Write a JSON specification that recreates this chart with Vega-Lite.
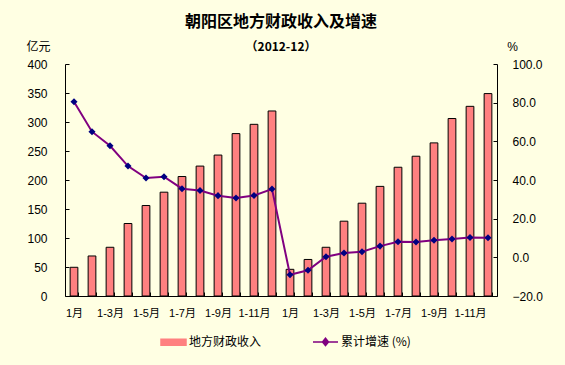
{
  "$schema": "https://vega.github.io/schema/vega-lite/v6.json",
  "width": 432,
  "height": 232,
  "autosize": "none",
  "padding": {"left": 65, "top": 64, "right": 68, "bottom": 69},
  "background": "#FFFFE3",
  "title": {
    "text": "朝阳区地方财政收入及增速",
    "subtitle": "（2012-12）",
    "anchor": "middle",
    "font": "Noto Sans CJK SC",
    "fontSize": 16,
    "fontWeight": "bold",
    "color": "#000",
    "subtitleFont": "Noto Sans CJK SC",
    "subtitleFontSize": 12,
    "subtitleFontWeight": "bold",
    "subtitleColor": "#000",
    "subtitlePadding": 12,
    "offset": -13
  },
  "data": {
    "values": [
      {"i": 1, "year": 2011, "income": 49.5, "growth": 80.5},
      {"i": 2, "year": 2011, "income": 69, "growth": 65},
      {"i": 3, "year": 2011, "income": 84, "growth": 57.7},
      {"i": 4, "year": 2011, "income": 125, "growth": 47.2},
      {"i": 5, "year": 2011, "income": 156, "growth": 41},
      {"i": 6, "year": 2011, "income": 179, "growth": 41.7},
      {"i": 7, "year": 2011, "income": 206, "growth": 35.5},
      {"i": 8, "year": 2011, "income": 224, "growth": 34.6},
      {"i": 9, "year": 2011, "income": 243, "growth": 31.9},
      {"i": 10, "year": 2011, "income": 280, "growth": 30.7},
      {"i": 11, "year": 2011, "income": 296, "growth": 32},
      {"i": 12, "year": 2011, "income": 319, "growth": 35.3},
      {"i": 13, "year": 2012, "income": 46, "growth": -9},
      {"i": 14, "year": 2012, "income": 63, "growth": -6.7},
      {"i": 15, "year": 2012, "income": 84, "growth": 0.3},
      {"i": 16, "year": 2012, "income": 129, "growth": 2.2},
      {"i": 17, "year": 2012, "income": 160, "growth": 2.9},
      {"i": 18, "year": 2012, "income": 189, "growth": 5.8},
      {"i": 19, "year": 2012, "income": 222, "growth": 8.1},
      {"i": 20, "year": 2012, "income": 241, "growth": 7.9},
      {"i": 21, "year": 2012, "income": 264, "growth": 8.8},
      {"i": 22, "year": 2012, "income": 306, "growth": 9.5},
      {"i": 23, "year": 2012, "income": 327, "growth": 10.3},
      {"i": 24, "year": 2012, "income": 349, "growth": 10.1}
    ]
  },
  "encoding": {
    "x": {
      "field": "i",
      "type": "ordinal",
      "scale": {"paddingInner": 0.57, "paddingOuter": 0.285},
      "axis": {
        "title": null,
        "labelAngle": 0,
        "labelExpr": "datum.value % 2 == 1 ? (datum.value % 12 == 1 ? '1月' : '1-' + ((datum.value - 1) % 12 + 1) + '月') : ''",
        "tickBand": "extent",
        "tickSize": -4,
        "labelPadding": 15,
        "labelFont": "Liberation Sans, 'Noto Sans CJK SC'",
        "labelFontSize": 11,
        "labelColor": "#000",
        "domainColor": "#000",
        "tickColor": "#000",
        "labelFlush": false
      }
    }
  },
  "layer": [
    {
      "mark": {"type": "bar", "stroke": "#000", "strokeWidth": 1},
      "encoding": {
        "y": {
          "field": "income",
          "type": "quantitative",
          "scale": {"domain": [0, 400]},
          "axis": {
            "title": "亿元",
            "titleAngle": 0,
            "titleX": -27,
            "titleY": -18,
            "titleAlign": "center",
            "titleBaseline": "middle",
            "titleFont": "Noto Sans CJK SC",
            "titleFontSize": 12,
            "titleFontWeight": "normal",
            "titleColor": "#000",
            "values": [0, 50, 100, 150, 200, 250, 300, 350, 400],
            "grid": false,
            "tickSize": -4,
            "labelPadding": 22,
            "labelFont": "Liberation Sans",
            "labelFontSize": 12,
            "labelColor": "#000",
            "domainColor": "#000",
            "tickColor": "#000"
          }
        },
        "color": {
          "datum": "地方财政收入",
          "scale": {"domain": ["地方财政收入", "累计增速 (%)"], "range": ["#FF8080", "#800080"]},
          "legend": {
            "title": null,
            "orient": "none",
            "legendX": 95,
            "legendY": 264,
            "direction": "horizontal",
            "padding": 0,
            "symbolSize": 625,
            "columnPadding": 48,
            "labelFont": "Noto Sans CJK SC",
            "labelFontSize": 12,
            "labelColor": "#000",
            "labelOffset": 2,
            "encode": {
              "symbols": {
                "update": {
                  "shape": {"signal": "datum.value == '地方财政收入' ? 'M-1,-0.24H1V0.24H-1Z' : 'M-1,0H1M0,-0.3L0.24,0L0,0.3L-0.24,0Z'"},
                  "fill": {"signal": "datum.value == '地方财政收入' ? '#FF8080' : '#000080'"},
                  "stroke": {"signal": "datum.value == '地方财政收入' ? '#222' : '#800080'"},
                  "strokeWidth": {"value": 1.5},
                  "opacity": {"value": 1}
                }
              }
            }
          }
        }
      }
    },
    {
      "encoding": {
        "y": {
          "field": "growth",
          "type": "quantitative",
          "scale": {"domain": [-20, 100]},
          "axis": {
            "orient": "right",
            "title": "%",
            "titleAngle": 0,
            "titleX": 15,
            "titleY": -18,
            "titleAlign": "center",
            "titleBaseline": "middle",
            "titleFont": "Liberation Sans",
            "titleFontSize": 12,
            "titleFontWeight": "normal",
            "titleColor": "#000",
            "values": [-20, 0, 20, 40, 60, 80, 100],
            "format": ".1f",
            "grid": false,
            "tickSize": -4,
            "labelPadding": 19,
            "labelFont": "Liberation Sans",
            "labelFontSize": 12,
            "labelColor": "#000",
            "domainColor": "#000",
            "tickColor": "#000"
          }
        }
      },
      "layer": [
        {
          "mark": {"type": "line", "strokeWidth": 2},
          "encoding": {
            "color": {
              "datum": "累计增速 (%)",
              "legend": {
                "title": null,
                "orient": "none",
                "legendX": 95,
                "legendY": 264,
                "direction": "horizontal",
                "padding": 0,
                "symbolSize": 625,
                "columnPadding": 48,
                "labelFont": "Noto Sans CJK SC",
                "labelFontSize": 12,
                "labelColor": "#000",
                "labelOffset": 2,
                "encode": {
                  "symbols": {
                    "update": {
                      "shape": {"signal": "datum.value == '地方财政收入' ? 'M-1,-0.24H1V0.24H-1Z' : 'M-1,0H1M0,-0.3L0.24,0L0,0.3L-0.24,0Z'"},
                      "fill": {"signal": "datum.value == '地方财政收入' ? '#FF8080' : '#000080'"},
                      "stroke": {"signal": "datum.value == '地方财政收入' ? '#222' : '#800080'"},
                      "strokeWidth": {"value": 1.5},
                      "opacity": {"value": 1}
                    }
                  }
                }
              }
            }
          }
        },
        {
          "mark": {"type": "point", "shape": "diamond", "filled": true, "color": "#000080", "size": 50, "opacity": 1},
          "encoding": {}
        }
      ]
    }
  ],
  "resolve": {"scale": {"y": "independent"}},
  "config": {
    "view": {"stroke": null}
  }
}
